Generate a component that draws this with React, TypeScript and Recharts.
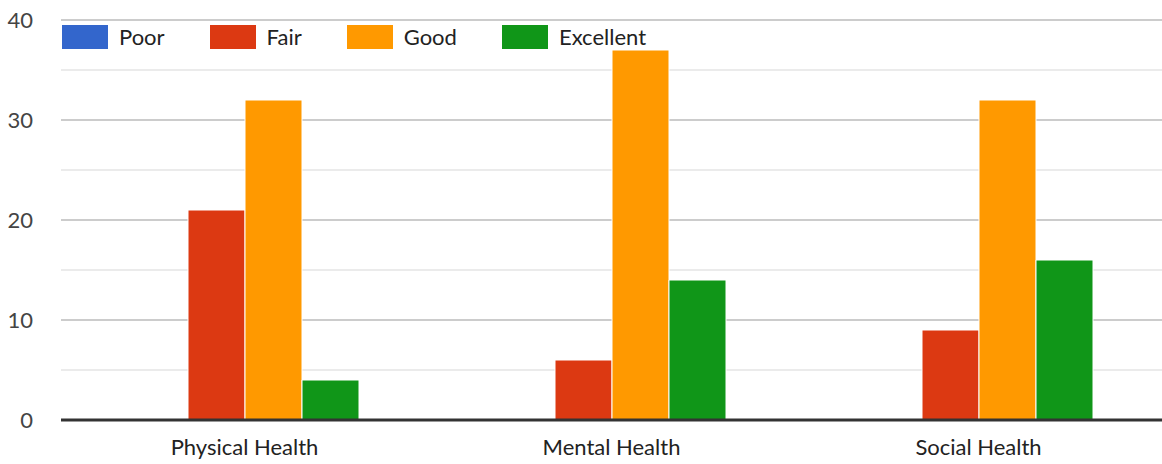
import { BarChart, Bar, XAxis, YAxis, CartesianGrid } from 'recharts';

const categories = ['Physical Health', 'Mental Health', 'Social Health'];
const poor = [0, 0, 0];
const fair = [21, 6, 9];
const good = [32, 37, 32];
const excellent = [4, 14, 16];
const yTicks = [0, 10, 20, 30, 40];
const minorTicks = [5, 15, 25, 35];

const series = [
    { key: 'Poor', color: '#3366cc' },
    { key: 'Fair', color: '#dc3912' },
    { key: 'Good', color: '#ff9900' },
    { key: 'Excellent', color: '#109618' },
];

const data = categories.map((name, i) => ({
    name,
    Poor: poor[i],
    Fair: fair[i],
    Good: good[i],
    Excellent: excellent[i],
}));

const font = 'Lato, "Open Sans", sans-serif';

// legend sits on top of the plot area, so it is drawn as an overlay
const LegendOverlay = () => (
    <div style={{ position: 'absolute', left: 62, top: 25, display: 'flex', fontFamily: font, fontSize: 22, color: '#222', lineHeight: '24px' }}>
        {series.map(s => (
            <div key={s.key} style={{ display: 'flex', alignItems: 'center', marginRight: 45 }}>
                <span style={{ width: 46, height: 24, background: s.color, display: 'inline-block', marginRight: 11 }} />
                <span>{s.key}</span>
            </div>
        ))}
    </div>
);

export default function App() {
    return (
        <div style={{ position: 'fixed', left: 0, top: 0, width: 1162, height: 464, background: '#fff' }}>
            <BarChart
                width={1162}
                height={464}
                data={data}
                margin={{ top: 20, right: 0, left: 0, bottom: 0 }}
                barSize={57}
                barGap={0}
            >
                <CartesianGrid vertical={false} horizontalValues={minorTicks} stroke="#ebebeb" strokeWidth={2} />
                <CartesianGrid vertical={false} horizontalValues={yTicks} stroke="#cccccc" strokeWidth={2} />
                <XAxis
                    dataKey="name"
                    height={44}
                    tickLine={false}
                    tickSize={0}
                    tickMargin={19}
                    axisLine={{ stroke: '#333', strokeWidth: 3 }}
                    tick={{ fill: '#222', fontSize: 22, fontFamily: font }}
                />
                <YAxis
                    width={61}
                    domain={[0, 40]}
                    ticks={yTicks}
                    axisLine={false}
                    tickLine={false}
                    tickSize={0}
                    tickMargin={28}
                    tick={{ fill: '#444', fontSize: 22, fontFamily: font }}
                />
                {series.map(s => (
                    <Bar
                        key={s.key}
                        dataKey={s.key}
                        fill={s.color}
                        stroke="#fff"
                        strokeWidth={1}
                        isAnimationActive={false}
                    />
                ))}
            </BarChart>
            <LegendOverlay />
        </div>
    );
}
